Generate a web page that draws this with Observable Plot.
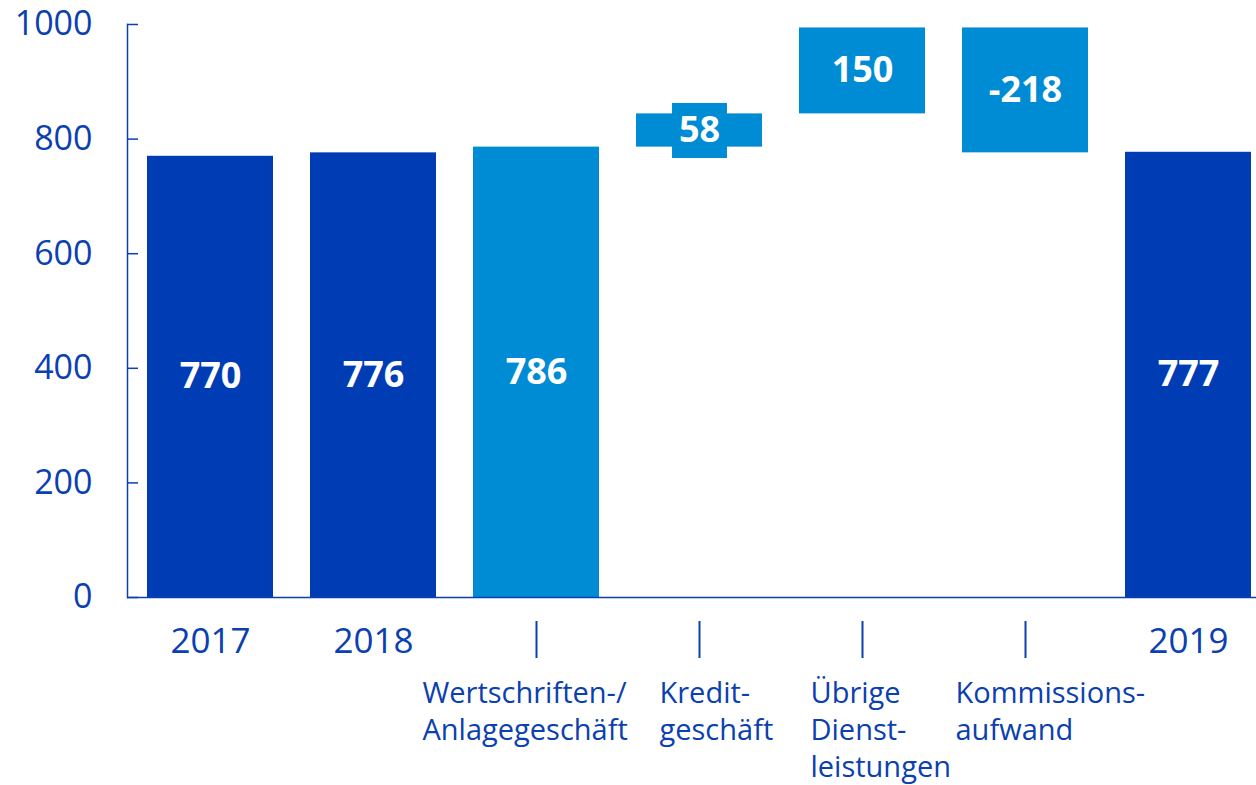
<!DOCTYPE html>
<html>
<head>
<meta charset="utf-8">
<script src="https://cdn.jsdelivr.net/npm/d3@7"></script>
<script src="https://cdn.jsdelivr.net/npm/@observablehq/plot@0.6"></script>
<style>
  html, body { margin: 0; padding: 0; background: #fff; }
  #chart svg { display: block; }
</style>
</head>
<body>
<div id="chart"></div>
<script>
// ---- data ----
const categories = ["2017", "2018", "Wertschriften-/\nAnlagegeschäft", "Kredit-\ngeschäft", "Übrige\nDienst-\nleistungen", "Kommissions-\naufwand", "2019"];
const values = [770, 776, 786, 58, 150, -218, 777];
const kinds = ["total", "total", "delta", "delta", "delta", "delta", "total"];
const valueLabels = ["770", "776", "786", "58", "150", "-218", "777"];
const yTicks = [0, 200, 400, 600, 800, 1000];

// ---- derived table ----
let running = 0;
const rows = categories.map((c, i) => {
  let y1, y2;
  if (kinds[i] === "total") { y1 = 0; y2 = values[i]; running = 0; }
  else { y1 = running; y2 = running + values[i]; running = y2; }
  return {category: c, value: values[i], kind: kinds[i], label: valueLabels[i], y1, y2, mid: (y1 + y2) / 2, index: i};
});

const DARK = "#003cb4";
const LIGHT = "#008cd4";
const TEXT = "#0b40b0";
const FONT = "'Open Sans', sans-serif";

const deltaRows = rows.filter(d => d.kind === "delta");
const totalRows = rows.filter(d => d.kind === "total");
const labelOffsets = [-114, -40, -52, -70];

const chart = Plot.plot({
  width: 1256,
  height: 785,
  marginTop: 24,
  marginBottom: 188,
  marginLeft: 127,
  marginRight: 0,
  style: {fontFamily: FONT, color: TEXT, background: "#fff"},
  x: {domain: categories, paddingInner: 0.228, paddingOuter: 0.0735, align: 0.79},
  y: {domain: [0, 1000]},
  marks: [
    Plot.barY(rows, {x: "category", y1: "y1", y2: "y2", fill: d => d.kind === "total" ? DARK : LIGHT}),
    Plot.dot(rows.filter(d => Math.abs(d.value) < 100), {x: "category", y: "mid", symbol: "square", r: 31, fill: LIGHT}),
    Plot.text(rows, {x: "category", y: "mid", text: "label", fill: "#fff", fontWeight: "bold", fontSize: 36, fontFamily: FONT}),
    Plot.frame({anchor: "left", stroke: TEXT, strokeWidth: 1.5}),
    Plot.ruleY([0], {stroke: TEXT, strokeWidth: 1.5}),
    Plot.axisY(yTicks, {tickSize: -11, tickPadding: 46, tickFormat: d => String(d), fontSize: 34, stroke: TEXT, fill: TEXT, strokeWidth: 1.5, label: null}),
    Plot.axisX(deltaRows.map(d => d.category), {tickSize: 37, dy: 24, tickFormat: () => "", stroke: TEXT, strokeWidth: 2, label: null}),
    Plot.text(totalRows, {x: "category", text: "category", frameAnchor: "bottom", dy: 44, lineAnchor: "middle", fontSize: 35, fill: TEXT, fontFamily: FONT}),
    ...deltaRows.map((d, k) => Plot.text([d], {x: "category", text: "category", frameAnchor: "bottom", dy: 79, dx: labelOffsets[k], textAnchor: "start", lineAnchor: "top", lineHeight: 1.28, fontSize: 29, fill: TEXT, fontFamily: FONT}))
  ]
});
document.getElementById("chart").appendChild(chart);
</script>
</body>
</html>
